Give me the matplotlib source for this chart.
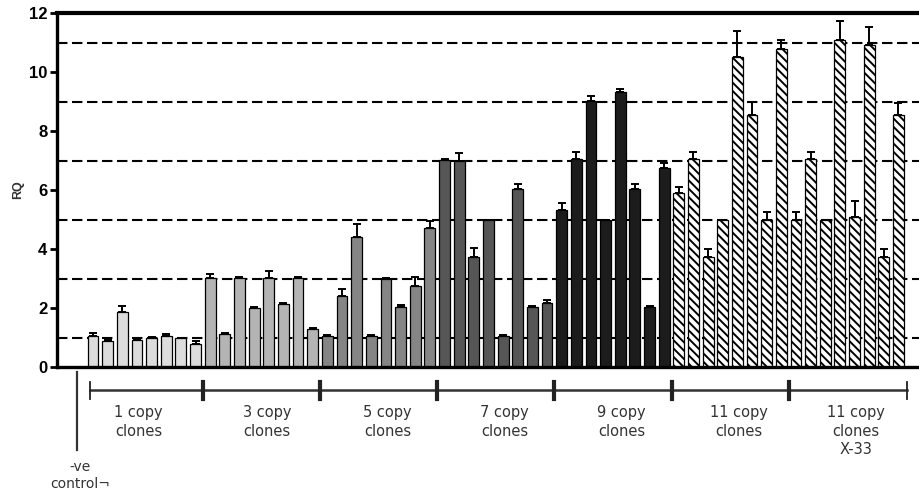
import matplotlib
matplotlib.use("Agg")
import matplotlib.pyplot as plt
import matplotlib.transforms as mtransforms
import numpy as np

# ---- data ----
group_labels = ["1 copy\nclones", "3 copy\nclones", "5 copy\nclones", "7 copy\nclones",
                "9 copy\nclones", "11 copy\nclones", "11 copy\nclones\nX-33"]
control_label = "-ve\ncontrol\u00ac"

rq_1copy = [1.04, 0.87, 1.88, 0.90, 1.00, 1.05, 0.97, 0.78]
rq_3copy = [3.02, 1.12, 3.02, 2.00, 3.03, 2.15, 3.03, 1.30]
rq_5copy = [1.06, 2.40, 4.40, 1.05, 3.00, 2.05, 2.75, 4.72]
rq_7copy = [7.02, 7.00, 3.74, 4.98, 1.05, 6.02, 2.04, 2.16]
rq_9copy = [5.32, 7.04, 9.03, 4.98, 9.33, 6.02, 2.04, 6.73]
rq_11copy = [5.90, 7.04, 3.72, 4.98, 10.52, 8.54, 4.98, 10.77]
rq_11copy_x33 = [4.98, 7.04, 4.98, 11.08, 5.09, 10.90, 3.72, 8.54]

err_1copy = [0.10, 0.06, 0.18, 0.05, 0.03, 0.08, 0.03, 0.10]
err_3copy = [0.12, 0.03, 0.03, 0.05, 0.22, 0.03, 0.03, 0.03]
err_5copy = [0.02, 0.25, 0.45, 0.03, 0.03, 0.04, 0.30, 0.22]
err_7copy = [0.02, 0.25, 0.28, 0.02, 0.03, 0.18, 0.03, 0.10]
err_9copy = [0.23, 0.25, 0.17, 0.02, 0.08, 0.18, 0.02, 0.20]
err_11copy = [0.20, 0.26, 0.28, 0.02, 0.88, 0.46, 0.28, 0.33]
err_11copy_x33 = [0.28, 0.26, 0.02, 0.66, 0.55, 0.63, 0.28, 0.40]

ref_lines = [1, 3, 5, 7, 9, 11]
yticks = [0, 2, 4, 6, 8, 10, 12]

groups = [rq_1copy, rq_3copy, rq_5copy, rq_7copy, rq_9copy, rq_11copy, rq_11copy_x33]
errs = [err_1copy, err_3copy, err_5copy, err_7copy, err_9copy, err_11copy, err_11copy_x33]

# ---- styles ----
fills = ["#dcdcdc", "#b4b4b4", "#858585", "#565656", "#1c1c1c", "white", "white"]
hatches = [None, None, None, None, None, "\\\\\\\\", "\\\\\\\\"]

plt.rcParams["hatch.linewidth"] = 1.4
plt.rcParams["font.family"] = ["Liberation Sans", "DejaVu Sans"]

fig = plt.figure(figsize=(9.19, 5.01), dpi=100)
ax = fig.add_axes([57 / 919, 1 - 367 / 501, 1 - 57 / 919, (367 - 13) / 501])

for y in ref_lines:
    ax.axhline(y, color="black", lw=1.5, ls=(0, (5, 2.2)), zorder=1)

pos = 0
for vals, ers, fc, h in zip(groups, errs, fills, hatches):
    x = np.arange(pos, pos + len(vals))
    ax.bar(x, vals, width=0.74, color=fc, edgecolor="black", linewidth=0.9,
           hatch=h, zorder=2)
    ax.errorbar(x, vals, yerr=[np.zeros(len(vals)), ers], fmt="none",
                ecolor="black", elinewidth=1.4, capsize=2.6, capthick=1.4, zorder=3)
    pos += len(vals)

n_total = pos
ax.set_xlim(-2.46, 56.4)
ax.set_ylim(0, 12)
ax.set_yticks(yticks)
ax.set_yticklabels([str(t) for t in yticks], fontsize=12, fontweight="bold")
ax.set_xticks([])
ax.set_ylabel("RQ", fontsize=9, fontweight="bold", color="#333333", labelpad=3)
ax.tick_params(axis="y", length=5, width=2, direction="out", pad=2)

ax.spines["right"].set_visible(False)
ax.spines["left"].set_linewidth(2.4)
ax.spines["bottom"].set_linewidth(2.4)
ax.spines["top"].set_linewidth(3.0)

# ---- bottom bracket ----
trans = mtransforms.blended_transform_factory(ax.transData, ax.transAxes)
gsize = len(rq_1copy)
bounds = [-0.2] + [gsize * k - 0.5 for k in range(1, len(groups))] + [n_total - 0.4]
y_line = -0.065
ax.plot([bounds[0], bounds[-1]], [y_line, y_line], color="#333333", lw=1.8,
        transform=trans, clip_on=False)
for i, b in enumerate(bounds):
    lw = 1.3 if i in (0, len(bounds) - 1) else 3.0
    ax.plot([b, b], [-0.042, -0.09], color="#222222", lw=lw,
            transform=trans, clip_on=False)

label_shift = [-0.4, 0.4, 0.6, 0.6, 0.6, 0.6, 0.6]
for k, lab in enumerate(group_labels):
    cx = gsize * k + (gsize - 1) / 2 + label_shift[k]
    ax.text(cx, -0.108, lab, transform=trans, ha="center", va="top",
            fontsize=10.5, color="#333333", linespacing=1.3,
            family=["DejaVu Sans"])

# negative control marker
ctrl_x = -1.1
ax.plot([ctrl_x, ctrl_x], [-0.014, -0.234], color="#333333", lw=1.6,
        transform=trans, clip_on=False)
ax.text(ctrl_x + 0.2, -0.262, control_label, transform=trans, ha="center", va="top",
        fontsize=10, color="#333333", linespacing=1.3, family=["DejaVu Sans"])

fig.savefig("out.png", dpi=100)
